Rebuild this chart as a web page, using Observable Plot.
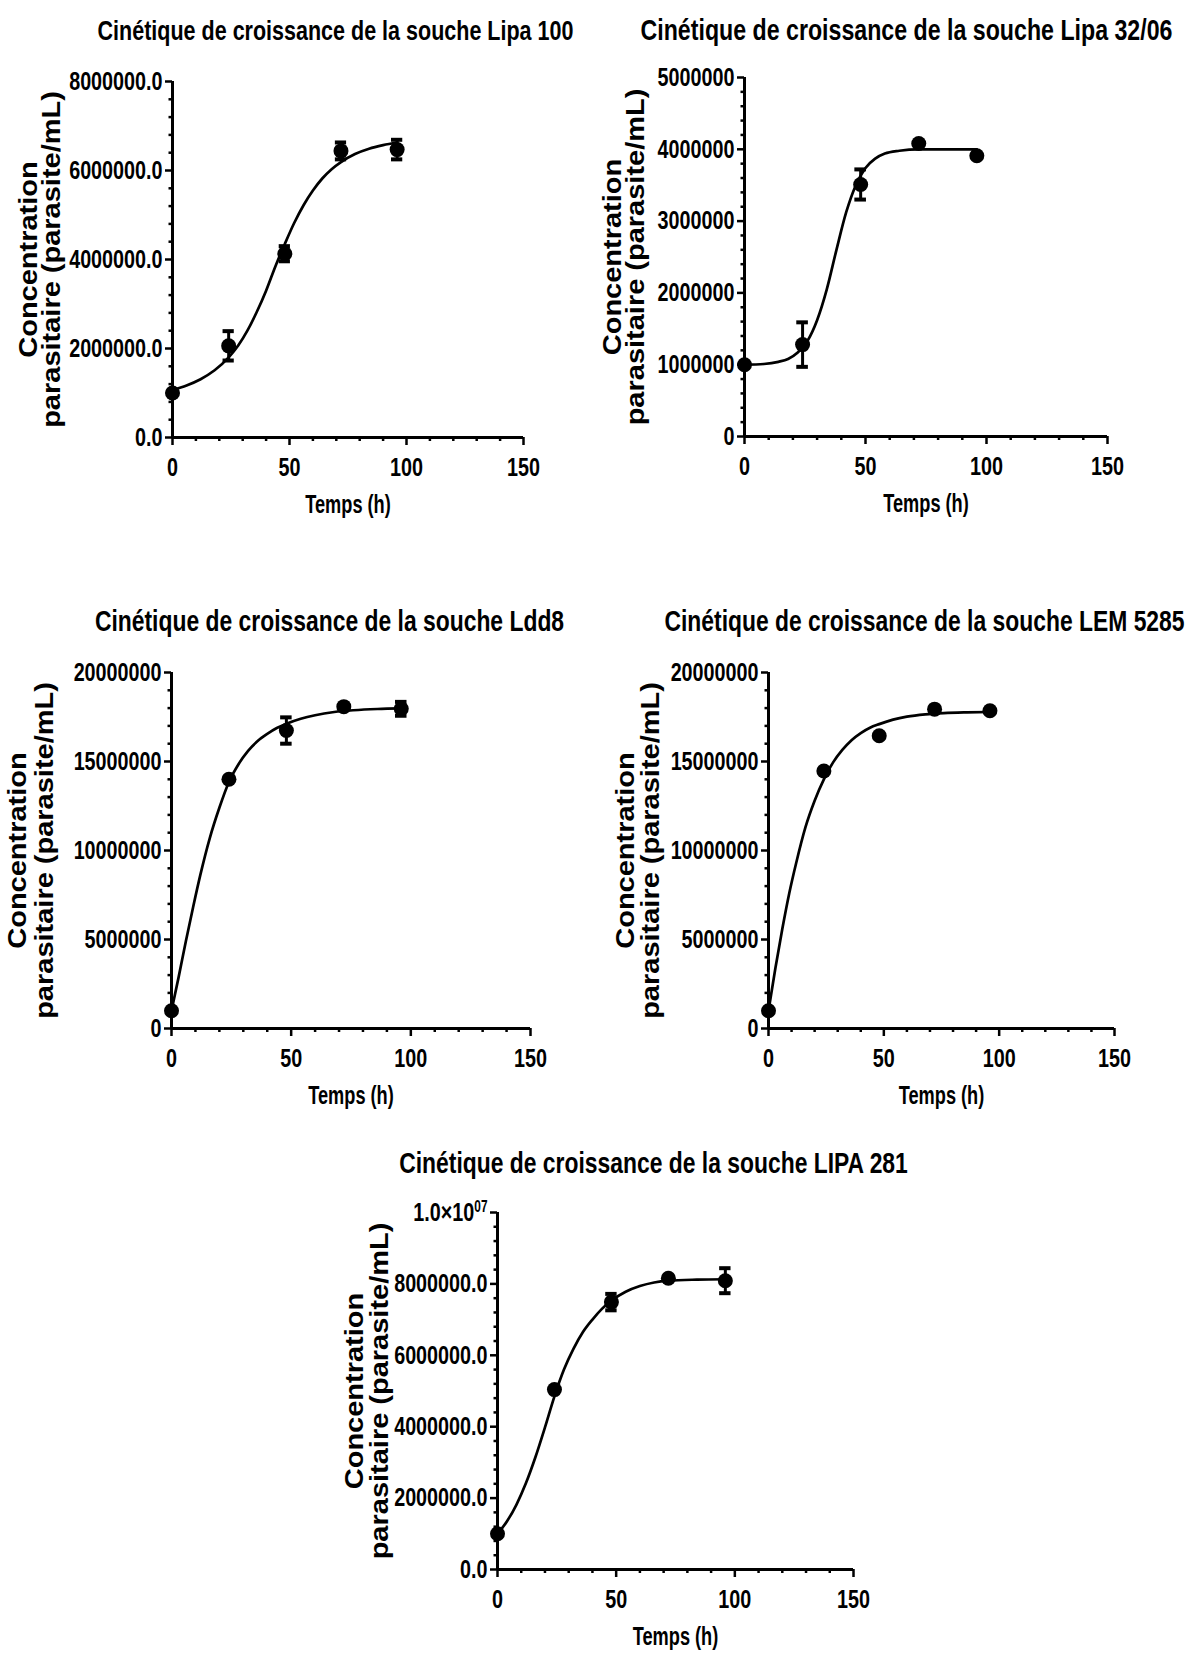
<!DOCTYPE html>
<html>
<head>
<meta charset="utf-8">
<script src="https://cdn.jsdelivr.net/npm/d3@7"></script>
<script src="https://cdn.jsdelivr.net/npm/@observablehq/plot@0.6"></script>
<style>
  html, body { margin: 0; padding: 0; background: #fff; }
  #root { position: relative; width: 1191px; height: 1653px; background: #fff; overflow: hidden; }
  .panel { position: absolute; }
</style>
</head>
<body>
<div id="root"></div>
<script>
// ---------- data ----------
const hours = [0, 24, 48, 72, 96];
const xTicks = [0, 50, 100, 150];
const xTickLabels = ["0", "50", "100", "150"];
const xMinorTicks = [10, 20, 30, 40, 60, 70, 80, 90, 110, 120, 130, 140];
const xLabel = "Temps (h)";
const yLabelLine1 = "Concentration";
const yLabelLine2 = "parasitaire (parasite/mL)";

// Lipa 100
const lipa100Title = "Cinétique de croissance de la souche Lipa 100";
const lipa100Mean = [1000000, 2060000, 4130000, 6440000, 6470000];
const lipa100Err = [0, 330000, 170000, 190000, 220000];
const lipa100FitT = [0, 6, 12, 18, 24, 28, 32, 36, 40, 44, 48, 52, 56, 60, 64, 68, 72, 78, 84, 90, 96];
const lipa100FitY = [1070000, 1170000, 1310000, 1510000, 1800000, 2060000, 2400000, 2820000, 3300000, 3850000, 4350000, 4820000, 5220000, 5550000, 5820000, 6030000, 6190000, 6370000, 6490000, 6570000, 6630000];
const lipa100YTicks = [0, 2000000, 4000000, 6000000, 8000000];
const lipa100YLabels = ["0.0", "2000000.0", "4000000.0", "6000000.0", "8000000.0"];

// Lipa 32/06
const lipa3206Title = "Cinétique de croissance de la souche Lipa 32/06";
const lipa3206Mean = [1000000, 1280000, 3510000, 4080000, 3910000];
const lipa3206Err = [0, 310000, 210000, 0, 0];
const lipa3206FitT = [0, 8, 14, 18, 22, 26, 30, 34, 38, 42, 46, 50, 54, 58, 64, 72, 84, 96];
const lipa3206FitY = [1000000, 1010000, 1040000, 1080000, 1170000, 1330000, 1620000, 2050000, 2600000, 3120000, 3500000, 3740000, 3870000, 3940000, 3980000, 4000000, 4000000, 4000000];
const lipa3206YTicks = [0, 1000000, 2000000, 3000000, 4000000, 5000000];
const lipa3206YLabels = ["0", "1000000", "2000000", "3000000", "4000000", "5000000"];

// Ldd8
const ldd8Title = "Cinétique de croissance de la souche Ldd8";
const ldd8Mean = [1000000, 14000000, 16740000, 18080000, 17960000];
const ldd8Err = [0, 0, 740000, 0, 390000];
const ldd8FitT = [0, 3, 6, 9, 12, 16, 20, 24, 28, 32, 36, 40, 44, 48, 54, 60, 68, 76, 86, 96];
const ldd8FitY = [1000000, 2900000, 4900000, 6800000, 8600000, 10700000, 12400000, 13850000, 14850000, 15600000, 16150000, 16550000, 16880000, 17120000, 17400000, 17600000, 17780000, 17880000, 17950000, 17980000];
const ldd8YTicks = [0, 5000000, 10000000, 15000000, 20000000];
const ldd8YLabels = ["0", "5000000", "10000000", "15000000", "20000000"];

// LEM 5285
const lem5285Title = "Cinétique de croissance de la souche LEM 5285";
const lem5285Mean = [1000000, 14470000, 16450000, 17940000, 17850000];
const lem5285Err = [0, 0, 0, 0, 0];
const lem5285FitT = [0, 3, 6, 9, 12, 16, 20, 24, 28, 32, 36, 40, 44, 48, 54, 60, 68, 76, 86, 96];
const lem5285FitY = [1000000, 3400000, 5600000, 7600000, 9300000, 11300000, 12800000, 14000000, 14950000, 15650000, 16200000, 16600000, 16900000, 17100000, 17350000, 17520000, 17650000, 17720000, 17760000, 17780000];
const lem5285YTicks = [0, 5000000, 10000000, 15000000, 20000000];
const lem5285YLabels = ["0", "5000000", "10000000", "15000000", "20000000"];

// LIPA 281
const lipa281Title = "Cinétique de croissance de la souche LIPA 281";
const lipa281Mean = [1000000, 5040000, 7490000, 8160000, 8090000];
const lipa281Err = [0, 0, 230000, 0, 350000];
const lipa281FitT = [0, 4, 8, 12, 16, 20, 24, 28, 32, 36, 40, 44, 48, 54, 60, 66, 72, 84, 96];
const lipa281FitY = [1000000, 1350000, 1820000, 2420000, 3150000, 3980000, 4850000, 5600000, 6180000, 6650000, 7000000, 7300000, 7530000, 7780000, 7940000, 8040000, 8090000, 8120000, 8130000];
const lipa281YTicks = [0, 2000000, 4000000, 6000000, 8000000, 10000000];
const lipa281YLabels = ["0.0", "2000000.0", "4000000.0", "6000000.0", "8000000.0", "1.0×10^07"];

// ---------- layout (pixel placement, kept apart from the data) ----------
const panels = [
  {title: lipa100Title, mean: lipa100Mean, err: lipa100Err, fitT: lipa100FitT, fitY: lipa100FitY,
   yTicks: lipa100YTicks, yLabels: lipa100YLabels, yMinorStep: 400000,
   box: {left: 0, top: 0, w: 595, h: 540}, frame: {x0: 172, x1: 523, yTop: 81, yBottom: 437},
   ylab: [-143, -120], titlePos: [335, 30], titleSize: 28.2},
  {title: lipa3206Title, mean: lipa3206Mean, err: lipa3206Err, fitT: lipa3206FitT, fitY: lipa3206FitY,
   yTicks: lipa3206YTicks, yLabels: lipa3206YLabels, yMinorStep: 200000,
   box: {left: 595, top: 0, w: 596, h: 540}, frame: {x0: 744, x1: 1107, yTop: 77, yBottom: 436},
   ylab: [-131, -108], titlePos: [906, 30], titleSize: 30.4},
  {title: ldd8Title, mean: ldd8Mean, err: ldd8Err, fitT: ldd8FitT, fitY: ldd8FitY,
   yTicks: ldd8YTicks, yLabels: ldd8YLabels, yMinorStep: 1000000,
   box: {left: 0, top: 575, w: 595, h: 560}, frame: {x0: 171, x1: 530, yTop: 672, yBottom: 1028},
   ylab: [-153, -126], titlePos: [329, 621], titleSize: 30},
  {title: lem5285Title, mean: lem5285Mean, err: lem5285Err, fitT: lem5285FitT, fitY: lem5285FitY,
   yTicks: lem5285YTicks, yLabels: lem5285YLabels, yMinorStep: 1000000,
   box: {left: 595, top: 575, w: 596, h: 560}, frame: {x0: 768, x1: 1114, yTop: 672, yBottom: 1028},
   ylab: [-142, -117], titlePos: [924, 621], titleSize: 30},
  {title: lipa281Title, mean: lipa281Mean, err: lipa281Err, fitT: lipa281FitT, fitY: lipa281FitY,
   yTicks: lipa281YTicks, yLabels: lipa281YLabels, yMinorStep: 400000,
   box: {left: 320, top: 1115, w: 600, h: 538}, frame: {x0: 497, x1: 853, yTop: 1212, yBottom: 1569},
   ylab: [-142, -117], titlePos: [653, 1163], titleSize: 30}
];

const FONT = "'Liberation Sans', Arial, Helvetica, sans-serif";
const SX_TITLE = 0.763;  // horizontal condensing of titles
const SX_TICK = 0.76;    // horizontal condensing of tick labels
const SX_XLABEL = 0.70;  // horizontal condensing of "Temps (h)"
const SY = 0.86;         // condensing of rotated text thickness
const CAP = 2.4;         // half width of error-bar caps, in hours

function postProcess(svg) {
  svg.querySelectorAll("text").forEach(el => {
    if (el.textContent.includes("^")) {
      const [a, b] = el.textContent.split("^");
      el.textContent = a;
      const ts = document.createElementNS("http://www.w3.org/2000/svg", "tspan");
      ts.setAttribute("dy", "-0.55em");
      ts.setAttribute("font-size", "0.6em");
      ts.textContent = b;
      el.appendChild(ts);
    }
    const g = el.closest("g");
    const aria = g ? (g.getAttribute("aria-label") || "") : "";
    const t = el.getAttribute("transform") || "";
    const x = parseFloat(el.getAttribute("x")) || 0;
    let sx = SX_TITLE;
    if (aria.includes("tick label")) sx = SX_TICK;
    else if (el.textContent === xLabel) sx = SX_XLABEL;
    if (/rotate/.test(t)) el.setAttribute("transform", `${t} scale(1,${SY})`);
    else el.setAttribute("transform", `${t} translate(${x},0) scale(${sx},1) translate(${-x},0)`);
  });
}

const root = document.getElementById("root");

for (const p of panels) {
  const {box, frame} = p;
  const yMax = p.yTicks[p.yTicks.length - 1];
  const pts = hours.map((t, i) => ({t, m: p.mean[i], e: p.err[i]}));
  const bars = pts.filter(d => d.e > 0);
  const fit = p.fitT.map((t, i) => ({t, y: p.fitY[i]}));
  const yMinor = d3.range(0, yMax + 1, p.yMinorStep).filter(v => !p.yTicks.includes(v));
  const fcx = (frame.x0 + frame.x1) / 2;

  const plot = Plot.plot({
    width: box.w,
    height: box.h,
    marginLeft: frame.x0 - box.left,
    marginRight: box.left + box.w - frame.x1,
    marginTop: frame.yTop - box.top,
    marginBottom: box.top + box.h - frame.yBottom,
    x: {domain: [0, 150]},
    y: {domain: [0, yMax]},
    style: {fontFamily: FONT, fontWeight: "bold", color: "#000", background: "#fff", overflow: "visible"},
    marks: [
      Plot.axisX(xMinorTicks, {tickSize: 4, text: null, strokeWidth: 2.5, label: null}),
      Plot.axisX(xTicks, {tickSize: 8, tickPadding: 12, strokeWidth: 2.5, fontSize: 26, fontWeight: "bold",
        tickFormat: (d, i) => xTickLabels[i], label: null}),
      Plot.axisY(yMinor, {tickSize: 3.5, text: null, strokeWidth: 2.5, label: null}),
      Plot.axisY(p.yTicks, {tickSize: 7, tickPadding: 3, strokeWidth: 2.5, fontSize: 26, fontWeight: "bold",
        tickFormat: (d, i) => p.yLabels[i], label: null}),
      Plot.ruleX([0], {y1: 0, y2: yMax, strokeWidth: 3}),
      Plot.ruleY([0], {x1: 0, x2: 150, strokeWidth: 3}),
      Plot.line(fit, {x: "t", y: "y", curve: "monotone-x", strokeWidth: 2.7, stroke: "#000"}),
      Plot.ruleX(bars, {x: "t", y1: d => d.m - d.e, y2: d => d.m + d.e, strokeWidth: 3}),
      Plot.ruleY(bars, {y: d => d.m + d.e, x1: d => d.t - CAP, x2: d => d.t + CAP, strokeWidth: 4}),
      Plot.ruleY(bars, {y: d => d.m - d.e, x1: d => d.t - CAP, x2: d => d.t + CAP, strokeWidth: 4}),
      Plot.dot(pts, {x: "t", y: "m", r: 7.5, fill: "#000", stroke: "none"}),
      Plot.text([p.title], {frameAnchor: "top", dx: p.titlePos[0] - fcx, dy: p.titlePos[1] - frame.yTop,
        fontSize: p.titleSize, fontWeight: "bold", textAnchor: "middle", lineAnchor: "middle", fill: "#000"}),
      Plot.text([xLabel], {frameAnchor: "bottom", dy: 67, fontSize: 26, fontWeight: "bold",
        textAnchor: "middle", lineAnchor: "middle", fill: "#000"}),
      Plot.text([yLabelLine1], {frameAnchor: "left", dx: p.ylab[0], rotate: -90, fontSize: 29, fontWeight: "bold",
        textAnchor: "middle", lineAnchor: "middle", fill: "#000"}),
      Plot.text([yLabelLine2], {frameAnchor: "left", dx: p.ylab[1], rotate: -90, fontSize: 29, fontWeight: "bold",
        textAnchor: "middle", lineAnchor: "middle", fill: "#000"})
    ]
  });
  postProcess(plot);
  const div = document.createElement("div");
  div.className = "panel";
  div.style.left = box.left + "px";
  div.style.top = box.top + "px";
  div.appendChild(plot);
  root.appendChild(div);
}
</script>
</body>
</html>
